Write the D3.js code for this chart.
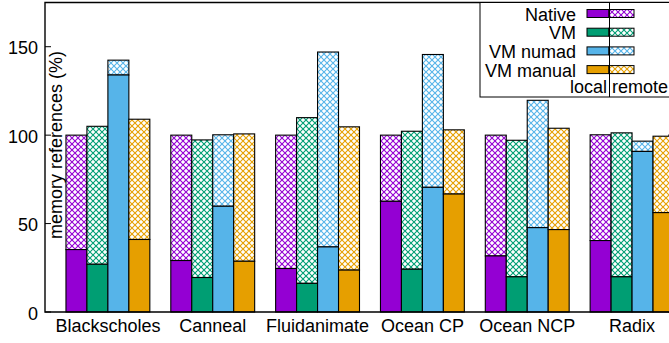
<!DOCTYPE html>
<html><head><meta charset="utf-8">
<script src="https://cdn.jsdelivr.net/npm/d3@7"></script>
<style>body{margin:0;background:#fff}svg{display:block;font-family:"Liberation Sans",Arial,sans-serif}</style>
</head><body><svg id="c" width="669" height="343"></svg>
<script>
const categories = ["Blackscholes","Canneal","Fluidanimate","Ocean CP","Ocean NCP","Radix"];
const seriesNames = ["Native","VM","VM numad","VM manual"];
const seriesColors = ["#9400d3","#009e73","#56b4e9","#e69f00"];
const nativeLocal  = [35.3, 29.1, 24.6, 62.6, 31.7, 40.4];
const nativeTotal  = [100, 100, 100, 100, 100, 100.2];
const vmLocal      = [27.0, 19.5, 16.2, 24.2, 19.9, 19.9];
const vmTotal      = [105.0, 97.3, 109.9, 102.2, 97.1, 101.3];
const numadLocal   = [134.0, 59.8, 36.8, 70.5, 47.7, 90.8];
const numadTotal   = [142.4, 100.2, 147.0, 145.6, 119.7, 96.6];
const manualLocal  = [41.0, 28.7, 23.7, 66.7, 46.6, 56.2];
const manualTotal  = [109.0, 100.7, 104.7, 103.0, 103.9, 99.4];
const yTicks = [0, 50, 100, 150];

const locals = [nativeLocal, vmLocal, numadLocal, manualLocal];
const totals = [nativeTotal, vmTotal, numadTotal, manualTotal];

const svg = d3.select("#c");
const L = 45, R = 674, T = 2.5, B = 312;
const y = d3.scaleLinear().domain([0, 175]).range([B, T]);
const x0 = d3.scaleBand().domain(categories).range([L, R]).paddingInner(0.2).paddingOuter(0.1).align(1);
const x1 = d3.scaleBand().domain(seriesNames).range([0, x0.bandwidth()]);

// patterns
const defs = svg.append("defs");
seriesColors.forEach((c, i) => {
  const p = defs.append("pattern").attr("id", "pat" + i).attr("patternUnits", "userSpaceOnUse")
    .attr("width", 6).attr("height", 6);
  p.append("rect").attr("width", 6).attr("height", 6).attr("fill", "#fff");
  p.append("path").attr("d", "M-1,-1L7,7M-1,7L7,-1").attr("stroke", c).attr("stroke-width", 1.1).attr("fill", "none");
});

// axis ticks (drawn under bars)
const g = svg.append("g");
yTicks.forEach(t => {
  g.append("line").attr("x1", L).attr("x2", L + 6).attr("y1", y(t)).attr("y2", y(t)).attr("stroke", "#000").attr("stroke-width", 1);
  g.append("line").attr("x1", R - 6).attr("x2", R).attr("y1", y(t)).attr("y2", y(t)).attr("stroke", "#000").attr("stroke-width", 1);
  g.append("text").attr("x", 38).attr("y", y(t) + 7.5).attr("text-anchor", "end").attr("font-size", 18).text(t);
});

// bars
categories.forEach((cat, ci) => {
  seriesNames.forEach((s, si) => {
    const bx = x0(cat) + x1(s), bw = x1.bandwidth();
    const loc = locals[si][ci], tot = totals[si][ci];
    svg.append("rect").attr("x", bx).attr("y", y(tot)).attr("width", bw).attr("height", y(loc) - y(tot))
      .attr("fill", "url(#pat" + si + ")").attr("stroke", "#000").attr("stroke-width", 1.1);
    svg.append("rect").attr("x", bx).attr("y", y(loc)).attr("width", bw).attr("height", y(0) - y(loc))
      .attr("fill", seriesColors[si]).attr("stroke", "#000").attr("stroke-width", 1.1);
  });
  svg.append("text").attr("x", x0(cat) + x0.bandwidth() / 2).attr("y", 332).attr("text-anchor", "middle")
    .attr("font-size", 18).text(cat);
});

// frame
svg.append("path").attr("d", `M${L},${T}L${R},${T}L${R},${B}L${L},${B}Z`).attr("fill", "none").attr("stroke", "#000").attr("stroke-width", 1.4);

// y label
svg.append("text").attr("transform", "translate(62,145) rotate(-90)").attr("text-anchor", "middle")
  .attr("font-size", 18).text("memory references (%)");

// legend
const lg = svg.append("g");
lg.append("rect").attr("x", 480).attr("y", T).attr("width", 220).attr("height", 97 - T)
  .attr("fill", "#fff").attr("stroke", "#000").attr("stroke-width", 1);
const rowY = [13.5, 32.2, 50.9, 69.6];
seriesNames.forEach((s, i) => {
  lg.append("text").attr("x", 576).attr("y", rowY[i] + 7).attr("text-anchor", "end").attr("font-size", 18).text(s);
  lg.append("rect").attr("x", 587).attr("y", rowY[i] - 4).attr("width", 22).attr("height", 8)
    .attr("fill", seriesColors[i]).attr("stroke", "#000").attr("stroke-width", 1);
  lg.append("rect").attr("x", 609).attr("y", rowY[i] - 4).attr("width", 25).attr("height", 8)
    .attr("fill", "url(#pat" + i + ")").attr("stroke", "#000").attr("stroke-width", 1);
});
lg.append("line").attr("x1", 609.5).attr("x2", 609.5).attr("y1", T).attr("y2", 97).attr("stroke", "#000").attr("stroke-width", 1);
lg.append("text").attr("x", 607).attr("y", 93).attr("text-anchor", "end").attr("font-size", 18).text("local");
lg.append("text").attr("x", 612).attr("y", 93).attr("text-anchor", "start").attr("font-size", 18).text("remote");
</script></body></html>
